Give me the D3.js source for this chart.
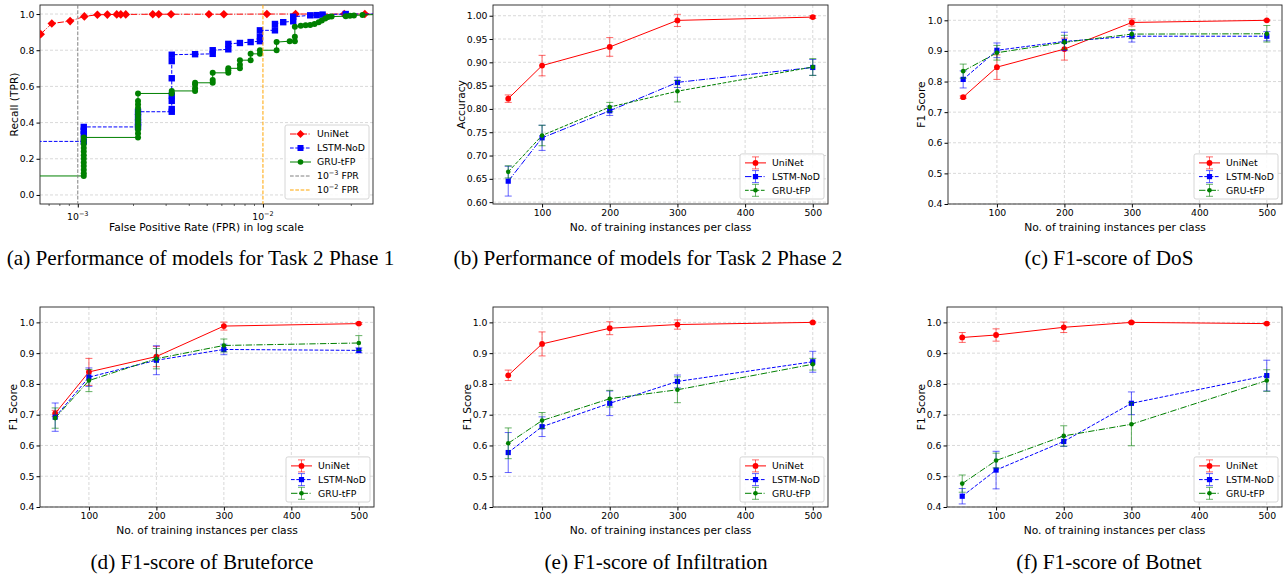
<!DOCTYPE html>
<html>
<head>
<meta charset="utf-8">
<script src="https://cdn.jsdelivr.net/npm/d3@7"></script>
<style>
body { margin: 0; background: #fff; }
svg text { font-family: "DejaVu Sans", sans-serif; fill: #000; }
svg text.cap { font-family: "Liberation Serif", "Times New Roman", serif; }
</style>
</head>
<body>
<svg id="fig" width="1283" height="575"></svg>
<script>
// ---- data ----
var sizes = [50, 100, 200, 300, 500];
var sizeTicks = [100, 200, 300, 400, 500];
var f1Ticks = [0.4, 0.5, 0.6, 0.7, 0.8, 0.9, 1.0];
var accTicks = [0.60, 0.65, 0.70, 0.75, 0.80, 0.85, 0.90, 0.95, 1.00];
var recallTicks = [0.0, 0.2, 0.4, 0.6, 0.8, 1.0];
var fprTicks = [1e-3, 1e-2];
var fprTickExp = ["\u22123", "\u22122"];
var models = ["UniNet", "LSTM-NoD", "GRU-tFP"];

// (a) ROC points [FPR, TPR]
var rocUniNet = [[6.3e-4,0.889],[7.24e-4,0.948],[9.09e-4,0.961],[1.085e-3,0.987],[1.276e-3,0.996],[1.444e-3,0.997],[1.623e-3,0.998],[1.707e-3,0.998],[1.816e-3,0.998],[2.54e-3,0.999],[2.737e-3,0.999],[3.19e-3,0.999],[5.11e-3,0.999],[6.15e-3,0.999],[1.05e-2,1.0],[1.5e-2,1.0],[2.75e-2,1.0],[3.55e-2,1.0],[5e-2,1.0]];
var rocLstm = [[5e-4,0.296],[1.077e-3,0.296],[1.077e-3,0.335],[1.077e-3,0.355],[1.077e-3,0.376],[2.115e-3,0.376],[2.115e-3,0.40],[2.115e-3,0.43],[2.115e-3,0.46],[3.217e-3,0.46],[3.217e-3,0.475],[3.217e-3,0.52],[3.217e-3,0.55],[3.217e-3,0.645],[3.217e-3,0.74],[3.217e-3,0.775],[4.30e-3,0.778],[5.354e-3,0.78],[5.354e-3,0.80],[6.50e-3,0.805],[6.50e-3,0.835],[7.51e-3,0.84],[8.58e-3,0.845],[9.63e-3,0.85],[9.63e-3,0.875],[9.63e-3,0.91],[1.161e-2,0.91],[1.161e-2,0.945],[1.287e-2,0.955],[1.457e-2,0.96],[1.457e-2,0.985],[1.8e-2,0.993],[1.95e-2,0.994],[2.1e-2,0.997],[2.8e-2,1.0],[5e-2,1.0]];
var rocGru = [[5e-4,0.105],[1.077e-3,0.105],[1.077e-3,0.12],[1.077e-3,0.14],[1.077e-3,0.16],[1.077e-3,0.18],[1.077e-3,0.20],[1.077e-3,0.22],[1.077e-3,0.24],[1.077e-3,0.26],[1.077e-3,0.28],[1.077e-3,0.30],[1.077e-3,0.318],[2.115e-3,0.318],[2.115e-3,0.34],[2.115e-3,0.36],[2.115e-3,0.38],[2.115e-3,0.40],[2.115e-3,0.42],[2.115e-3,0.44],[2.115e-3,0.46],[2.115e-3,0.48],[2.115e-3,0.50],[2.115e-3,0.52],[2.115e-3,0.561],[3.217e-3,0.561],[3.217e-3,0.575],[4.30e-3,0.575],[4.30e-3,0.59],[4.30e-3,0.61],[4.30e-3,0.62],[5.354e-3,0.62],[5.354e-3,0.635],[5.354e-3,0.675],[6.50e-3,0.675],[6.50e-3,0.69],[6.50e-3,0.70],[7.51e-3,0.70],[7.51e-3,0.72],[7.51e-3,0.745],[8.58e-3,0.745],[8.58e-3,0.78],[9.63e-3,0.78],[9.63e-3,0.80],[1.185e-2,0.80],[1.185e-2,0.845],[1.394e-2,0.85],[1.487e-2,0.85],[1.487e-2,0.875],[1.487e-2,0.93],[1.6e-2,0.935],[1.7e-2,0.938],[1.8e-2,0.94],[1.9e-2,0.945],[2.0e-2,0.955],[2.08e-2,0.965],[2.17e-2,0.975],[2.25e-2,0.983],[2.35e-2,0.986],[2.8e-2,0.988],[2.95e-2,0.99],[3.1e-2,0.992],[3.45e-2,0.995],[5e-2,1.0]];

// (b) accuracy, phase 2
var accUniNet = [0.822, 0.893, 0.933, 0.990, 0.997];
var accUniNetErr = [0.008, 0.022, 0.020, 0.013, 0.003];
var accLstm = [0.645, 0.738, 0.796, 0.857, 0.889];
var accLstmErr = [0.032, 0.027, 0.010, 0.011, 0.017];
var accGru = [0.665, 0.743, 0.804, 0.838, 0.890];
var accGruErr = [0.013, 0.022, 0.010, 0.023, 0.018];

// (c) DoS
var dosUniNet = [0.749, 0.847, 0.906, 0.993, 1.000];
var dosUniNetErr = [0.004, 0.040, 0.036, 0.012, 0.002];
var dosLstm = [0.807, 0.902, 0.931, 0.948, 0.948];
var dosLstmErr = [0.028, 0.024, 0.030, 0.019, 0.015];
var dosGru = [0.834, 0.894, 0.928, 0.955, 0.956];
var dosGruErr = [0.023, 0.024, 0.023, 0.015, 0.027];

// (d) Bruteforce
var bfUniNet = [0.704, 0.839, 0.889, 0.988, 0.996];
var bfUniNetErr = [0.010, 0.044, 0.033, 0.013, 0.003];
var bfLstm = [0.692, 0.822, 0.877, 0.912, 0.909];
var bfLstmErr = [0.046, 0.030, 0.047, 0.017, 0.008];
var bfGru = [0.689, 0.811, 0.882, 0.925, 0.933];
var bfGruErr = [0.033, 0.036, 0.033, 0.021, 0.024];

// (e) Infiltration
var infUniNet = [0.828, 0.930, 0.981, 0.993, 1.000];
var infUniNetErr = [0.017, 0.039, 0.021, 0.015, 0.002];
var infLstm = [0.577, 0.661, 0.737, 0.808, 0.872];
var infLstmErr = [0.065, 0.032, 0.040, 0.021, 0.034];
var infGru = [0.607, 0.681, 0.752, 0.781, 0.864];
var infGruErr = [0.050, 0.026, 0.027, 0.042, 0.019];

// (f) Botnet
var botUniNet = [0.951, 0.959, 0.984, 1.000, 0.996];
var botUniNetErr = [0.016, 0.020, 0.017, 0.003, 0.003];
var botLstm = [0.435, 0.520, 0.613, 0.737, 0.827];
var botLstmErr = [0.025, 0.061, 0.016, 0.037, 0.050];
var botGru = [0.476, 0.551, 0.631, 0.669, 0.811];
var botGruErr = [0.028, 0.024, 0.033, 0.070, 0.035];

var RED = "#ff0000", BLUE = "#0000ff", GREEN = "#008000";
var DASHED = "3.7,1.6", DASHDOT = "6.4,1.6,1,1.6";
var TICK_FS = 9.3, LABEL_FS = 10.7, LEG_FS = 9.3, CAP_FS = 21.2;

var fig = d3.select("#fig");
var clipCount = 0;

function drawMarker(g, kind, cx, cy, color, s) {
	if (kind == "diamond") {
		g.append("path").attr("d", "M" + cx + "," + (cy - s) + "L" + (cx + s) + "," + cy + "L" + cx + "," + (cy + s) + "L" + (cx - s) + "," + cy + "Z").attr("fill", color);
	} else if (kind == "square") {
		g.append("rect").attr("x", cx - s).attr("y", cy - s).attr("width", 2 * s).attr("height", 2 * s).attr("fill", color);
	} else {
		g.append("circle").attr("cx", cx).attr("cy", cy).attr("r", s).attr("fill", color);
	}
}

function setupAxes(f, x, y, yTickVals, yFmt, xAxisGen) {
	var g = fig.append("g");
	// grid
	g.append("g").selectAll("line").data(yTickVals).enter().append("line")
		.attr("x1", f.left).attr("x2", f.right)
		.attr("y1", function(d) { return y(d); }).attr("y2", function(d) { return y(d); })
		.attr("stroke", "#cfcfcf").attr("stroke-width", 0.8).attr("stroke-dasharray", "3,2");
	if (f.xGrid) {
		g.append("g").selectAll("line").data(f.xGrid).enter().append("line")
			.attr("y1", f.top).attr("y2", f.bottom)
			.attr("x1", function(d) { return x(d); }).attr("x2", function(d) { return x(d); })
			.attr("stroke", "#cfcfcf").attr("stroke-width", 0.8).attr("stroke-dasharray", "3,2");
	}
	// y axis
	var ya = g.append("g").attr("transform", "translate(" + f.left + ",0)")
		.call(d3.axisLeft(y).tickValues(yTickVals).tickFormat(yFmt).tickSizeOuter(0).tickSize(3.5).tickPadding(2));
	ya.select(".domain").remove();
	ya.selectAll("text").attr("font-size", TICK_FS).attr("font-family", "DejaVu Sans");
	// x axis
	var xa = g.append("g").attr("transform", "translate(0," + f.bottom + ")").call(xAxisGen);
	xa.select(".domain").remove();
	xa.selectAll("text").attr("font-size", TICK_FS).attr("font-family", "DejaVu Sans");
	// frame
	g.append("rect").attr("x", f.left).attr("y", f.top).attr("width", f.right - f.left).attr("height", f.bottom - f.top)
		.attr("fill", "none").attr("stroke", "#222").attr("stroke-width", 0.9);
	// labels
	g.append("text").attr("x", (f.left + f.right) / 2).attr("y", f.bottom + 26.5)
		.attr("text-anchor", "middle").attr("font-size", LABEL_FS).text(f.xlabel);
	g.append("text").attr("transform", "translate(" + (f.left - f.ylabOff) + "," + ((f.top + f.bottom) / 2) + ") rotate(-90)")
		.attr("text-anchor", "middle").attr("dy", "0.35em").attr("font-size", LABEL_FS).text(f.ylabel);
	// caption
	fig.append("text").attr("class", "cap").attr("x", f.capX).attr("y", f.capY)
		.attr("text-anchor", "middle").attr("font-size", CAP_FS).text(f.caption);
	// clip
	clipCount++;
	var id = "clip" + clipCount;
	fig.append("clipPath").attr("id", id).append("rect")
		.attr("x", f.left).attr("y", f.top).attr("width", f.right - f.left).attr("height", f.bottom - f.top);
	return id;
}

function drawLegend(f, items, rowH, boxW) {
	var h = items.length * rowH + 4;
	var lx = f.right - 4 - boxW, ly = f.bottom - 5 - h;
	var g = fig.append("g");
	g.append("rect").attr("x", lx).attr("y", ly).attr("width", boxW).attr("height", h).attr("rx", 2)
		.attr("fill", "#fff").attr("fill-opacity", 0.85).attr("stroke", "#cccccc").attr("stroke-width", 0.8);
	items.forEach(function(it, i) {
		var cy = ly + 9 + i * rowH;
		var x0 = lx + 5, x1 = lx + 26, xm = (x0 + x1) / 2;
		g.append("line").attr("x1", x0).attr("x2", x1).attr("y1", cy).attr("y2", cy)
			.attr("stroke", it.color).attr("stroke-width", 1).attr("stroke-dasharray", it.dash || null);
		if (it.err) {
			g.append("line").attr("x1", xm).attr("x2", xm).attr("y1", cy - 6).attr("y2", cy + 6).attr("stroke", it.color).attr("stroke-opacity", 0.6);
			g.append("line").attr("x1", xm - 3.5).attr("x2", xm + 3.5).attr("y1", cy - 6).attr("y2", cy - 6).attr("stroke", it.color).attr("stroke-opacity", 0.6);
			g.append("line").attr("x1", xm - 3.5).attr("x2", xm + 3.5).attr("y1", cy + 6).attr("y2", cy + 6).attr("stroke", it.color).attr("stroke-opacity", 0.6);
		}
		if (it.marker) drawMarker(g, it.marker, xm, cy, it.color, it.ms);
		var t = g.append("text").attr("x", lx + 32).attr("y", cy).attr("dy", "0.35em").attr("font-size", LEG_FS);
		if (it.sup) {
			t.append("tspan").text("10");
			t.append("tspan").attr("dy", -4).attr("font-size", 6.5).text(it.sup);
			t.append("tspan").attr("dy", 4).text(" FPR");
		} else {
			t.text(it.label);
		}
	});
}

// ---------- (a) ROC in log scale ----------
function drawRoc() {
	var f = { left: 40, right: 373, top: 5, bottom: 204, xlabel: "False Positive Rate (FPR) in log scale",
		ylabel: "Recall (TPR)", ylabOff: 26, caption: "(a) Performance of models for Task 2 Phase 1", capX: 200.5, capY: 265 };
	var x = d3.scaleLog().domain([6.25e-4, 3.93e-2]).range([f.left, f.right]);
	var y = d3.scaleLinear().domain([-0.05, 1.05]).range([f.bottom, f.top]);
	var xAxis = function(sel) {
		sel.call(d3.axisBottom(x).tickValues(fprTicks).tickFormat("").tickSizeOuter(0).tickSize(3.5));
		var minor = x.ticks().filter(function(d) { return fprTicks.indexOf(d) < 0 && Math.abs(Math.log10(d) - Math.round(Math.log10(d))) > 1e-6; });
		sel.selectAll(".minor").data(minor).enter().append("line").attr("class", "minor")
			.attr("x1", function(d) { return x(d); }).attr("x2", function(d) { return x(d); })
			.attr("y1", 0).attr("y2", 2).attr("stroke", "#000").attr("stroke-width", 0.6);
		sel.selectAll(".lab").data(fprTicks).enter().append("text").attr("class", "lab")
			.attr("x", function(d) { return x(d); }).attr("y", 16).attr("text-anchor", "middle")
			.attr("font-size", TICK_FS).attr("fill", "#000")
			.each(function(d, i) {
				var t = d3.select(this);
				t.append("tspan").text("10");
				t.append("tspan").attr("dy", -4).attr("font-size", 6.5).text(fprTickExp[i]);
			});
	};
	var clip = setupAxes(f, x, y, recallTicks, d3.format(".1f"), xAxis);
	var pg = fig.append("g").attr("clip-path", "url(#" + clip + ")");
	var line = d3.line().x(function(d) { return x(d[0]); }).y(function(d) { return y(d[1]); });
	var series = [
		{ pts: rocUniNet, color: RED, dash: DASHDOT, marker: "diamond", ms: 4.3 },
		{ pts: rocLstm, color: BLUE, dash: DASHED, marker: "square", ms: 3.2 },
		{ pts: rocGru, color: GREEN, dash: null, marker: "circle", ms: 3.0 }
	];
	series.forEach(function(s) {
		pg.append("path").datum(s.pts).attr("d", line).attr("fill", "none")
			.attr("stroke", s.color).attr("stroke-width", 1).attr("stroke-dasharray", s.dash);
		s.pts.forEach(function(p) { drawMarker(pg, s.marker, x(p[0]), y(p[1]), s.color, s.ms); });
	});
	pg.append("line").attr("x1", x(1e-3)).attr("x2", x(1e-3)).attr("y1", f.top).attr("y2", f.bottom)
		.attr("stroke", "#808080").attr("stroke-width", 1).attr("stroke-dasharray", DASHED);
	pg.append("line").attr("x1", x(1e-2)).attr("x2", x(1e-2)).attr("y1", f.top).attr("y2", f.bottom)
		.attr("stroke", "#ffa500").attr("stroke-width", 1).attr("stroke-dasharray", DASHED);
	drawLegend(f, [
		{ label: models[0], color: RED, dash: DASHDOT, marker: "diamond", ms: 4 },
		{ label: models[1], color: BLUE, dash: DASHED, marker: "square", ms: 3 },
		{ label: models[2], color: GREEN, dash: null, marker: "circle", ms: 2.8 },
		{ label: "", sup: "\u22123", color: "#808080", dash: DASHED },
		{ label: "", sup: "\u22122", color: "#ffa500", dash: DASHED }
	], 14, 84);
}

// ---------- (b)-(f) error bar charts ----------
function drawErrPanel(f, yDomain, yTicks, yFmt, series) {
	var x = d3.scaleLinear().domain([27.5, 522.5]).range([f.left, f.right]);
	var y = d3.scaleLinear().domain(yDomain).range([f.bottom, f.top]);
	f.xGrid = sizeTicks;
	var xAxis = d3.axisBottom(x).tickValues(sizeTicks).tickFormat(d3.format("d")).tickSizeOuter(0).tickSize(3.5).tickPadding(2);
	var clip = setupAxes(f, x, y, yTicks, yFmt, xAxis);
	var pg = fig.append("g").attr("clip-path", "url(#" + clip + ")");
	var line = d3.line().x(function(d, i) { return x(sizes[i]); }).y(function(d) { return y(d); });
	series.forEach(function(s) {
		var eg = pg.append("g").attr("stroke", s.color).attr("stroke-opacity", 0.6).attr("stroke-width", 1);
		s.vals.forEach(function(v, i) {
			var cx = x(sizes[i]), y0 = y(v - s.errs[i]), y1 = y(v + s.errs[i]);
			eg.append("line").attr("x1", cx).attr("x2", cx).attr("y1", y0).attr("y2", y1);
			eg.append("line").attr("x1", cx - 3.5).attr("x2", cx + 3.5).attr("y1", y0).attr("y2", y0);
			eg.append("line").attr("x1", cx - 3.5).attr("x2", cx + 3.5).attr("y1", y1).attr("y2", y1);
		});
		pg.append("path").datum(s.vals).attr("d", line).attr("fill", "none")
			.attr("stroke", s.color).attr("stroke-width", 1).attr("stroke-dasharray", s.dash);
		s.vals.forEach(function(v, i) { drawMarker(pg, s.marker, x(sizes[i]), y(v), s.color, s.ms); });
	});
	drawLegend(f, series.map(function(s) {
		return { label: s.name, color: s.color, dash: s.dash, marker: s.marker, ms: s.ms, err: true };
	}), 13.7, 84);
}

function trio(u, ue, l, le, g, ge, lDash, gDash) {
	return [
		{ name: models[0], vals: u, errs: ue, color: RED, dash: null, marker: "circle", ms: 2.9 },
		{ name: models[1], vals: l, errs: le, color: BLUE, dash: lDash, marker: "square", ms: 2.6 },
		{ name: models[2], vals: g, errs: ge, color: GREEN, dash: gDash, marker: "circle", ms: 2.3 }
	];
}

var xl = "No. of training instances per class";
var f1dom = [0.4, 1.05];

drawRoc();
drawErrPanel({ left: 493, right: 828, top: 5, bottom: 204, xlabel: xl, ylabel: "Accuracy", ylabOff: 32,
	caption: "(b) Performance of models for Task 2 Phase 2", capX: 648, capY: 265 },
	[0.596, 1.023], accTicks, d3.format(".2f"),
	trio(accUniNet, accUniNetErr, accLstm, accLstmErr, accGru, accGruErr, DASHDOT, DASHED));
drawErrPanel({ left: 948, right: 1282, top: 5, bottom: 204, xlabel: xl, ylabel: "F1 Score", ylabOff: 27,
	caption: "(c) F1-score of DoS", capX: 1109, capY: 265 },
	f1dom, f1Ticks, d3.format(".1f"),
	trio(dosUniNet, dosUniNetErr, dosLstm, dosLstmErr, dosGru, dosGruErr, DASHED, DASHDOT));
drawErrPanel({ left: 40, right: 374, top: 307, bottom: 507, xlabel: xl, ylabel: "F1 Score", ylabOff: 27,
	caption: "(d) F1-score of Bruteforce", capX: 202, capY: 569 },
	f1dom, f1Ticks, d3.format(".1f"),
	trio(bfUniNet, bfUniNetErr, bfLstm, bfLstmErr, bfGru, bfGruErr, DASHED, DASHDOT));
drawErrPanel({ left: 493, right: 828, top: 307, bottom: 507, xlabel: xl, ylabel: "F1 Score", ylabOff: 26,
	caption: "(e) F1-score of Infiltration", capX: 656, capY: 569 },
	f1dom, f1Ticks, d3.format(".1f"),
	trio(infUniNet, infUniNetErr, infLstm, infLstmErr, infGru, infGruErr, DASHED, DASHDOT));
drawErrPanel({ left: 947, right: 1282, top: 307, bottom: 507, xlabel: xl, ylabel: "F1 Score", ylabOff: 26,
	caption: "(f) F1-score of Botnet", capX: 1109, capY: 569 },
	f1dom, f1Ticks, d3.format(".1f"),
	trio(botUniNet, botUniNetErr, botLstm, botLstmErr, botGru, botGruErr, DASHED, DASHDOT));
</script>
</body>
</html>
